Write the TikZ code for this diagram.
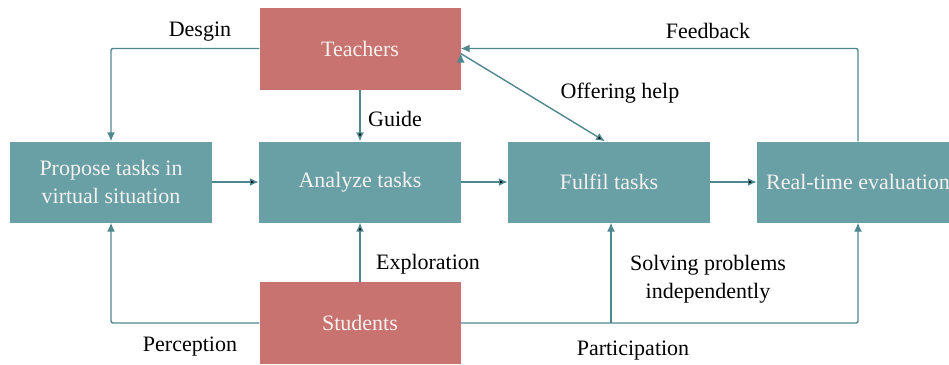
\documentclass[tikz,border=0pt]{standalone}
\usepackage{fontspec}
\setmainfont{Liberation Serif}
\usepackage{tikz}
\usetikzlibrary{arrows.meta,positioning,calc}

\definecolor{taskteal}{HTML}{68A0A6}
\definecolor{actorred}{HTML}{C87370}
\definecolor{linkteal}{HTML}{4F878F}
\definecolor{boxtext}{HTML}{F6F1EF}

\tikzset{
  task/.style={rectangle, fill=taskteal, text=boxtext, minimum width=202pt, minimum height=81pt, inner sep=0pt, align=center, font=\fontsize{22}{28}\selectfont},
  actor/.style={rectangle, fill=actorred, text=boxtext, minimum width=201pt, minimum height=82pt, inner sep=0pt, font=\fontsize{22}{28}\selectfont},
  lbl/.style={align=center, inner sep=0pt, font=\fontsize{22}{28}\selectfont},
  link/.style={draw=linkteal, line width=1.4pt, rounded corners=2pt, -{Latex[length=9pt,width=8pt]}}
}

\begin{document}
\begin{tikzpicture}[x=1pt,y=-1pt]
  \useasboundingbox (0,0) rectangle (949,364);

  \node (teach) [actor] at (360,48.5) {Teachers};
  \node (stud) [actor] at (360,323) {Students};

  \node (propose) [task] at (111,182) {Propose tasks in\\virtual situation};
  \node (analyze) [task] at (360,182) {Analyze tasks};
  \node (fulfil) [task] at (609,182) {Fulfil tasks};
  \node (evalrt) [task] at (858,182) {Real-time evaluation};

  \coordinate (branch) at (611,323);

  \path [link]
  (propose) edge (analyze)
  (analyze) edge (fulfil)
  (fulfil) edge (evalrt)
  (teach) edge (analyze)
  (stud) edge (analyze)
  ([yshift=-5pt]teach.east) edge ([xshift=-4pt]fulfil.north);

  \draw [link] (teach.west) -| (propose.north);
  \draw [link] (stud.west) -| (propose.south);
  \draw [link] (evalrt.north) |- (teach.east);
  \draw [link] (stud.east) -| (evalrt.south);
  \draw [link] (branch) -- (branch |- fulfil.south);

  \node (desgin) [lbl] at (200,32) {Desgin};
  \node (guide) [lbl] at (395,119) {Guide};
  \node (offer) [lbl] at (620,93) {Offering help};
  \node (feedb) [lbl] at (708,31) {Feedback};
  \node (explor) [lbl] at (428,264) {Exploration};
  \node (percep) [lbl] at (190,347) {Perception};
  \node (solving) [lbl] at (708,279) {Solving problems\\independently};
  \node (partic) [lbl] at (633,351) {Participation};
\end{tikzpicture}
\end{document}
